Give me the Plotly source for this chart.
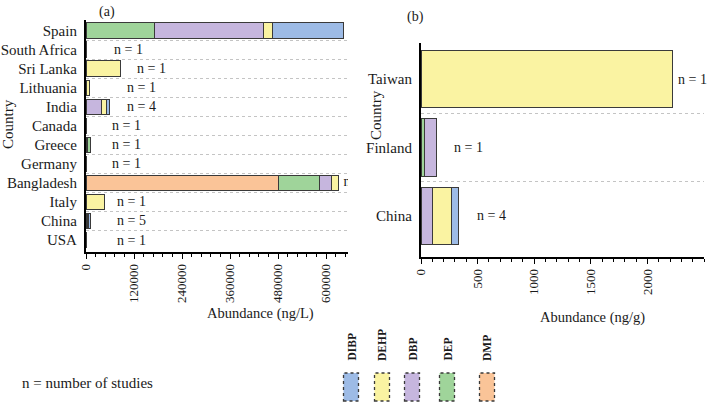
import plotly.graph_objects as go

# ---------------- data ----------------
series = ["DMP", "DEP", "DBP", "DEHP", "DIBP"]
legend_order = ["DIBP", "DEHP", "DBP", "DEP", "DMP"]

# Panel (a): water, ng/L  (listed bottom -> top)
countries_a = ["USA", "China", "Italy", "Bangladesh", "Germany", "Greece",
               "Canada", "India", "Lithuania", "Sri Lanka", "South Africa", "Spain"]
n_a = [1, 5, 1, 2, 1, 1, 1, 4, 1, 1, 1, 3]
dmp_a = [0, 0, 0, 480000, 0, 2500, 0, 0, 0, 0, 0, 0]
dep_a = [0, 1000, 0, 102500, 1500, 9000, 0, 0, 0, 0, 0, 170000]
dbp_a = [0, 3000, 0, 30000, 0, 0, 0, 37500, 0, 0, 0, 272500]
dehp_a = [600, 3000, 45000, 17500, 0, 0, 500, 12500, 8000, 85000, 800, 22500]
dibp_a = [0, 5000, 0, 0, 0, 0, 0, 7500, 1500, 0, 0, 177500]
label_x_a = [72500, 72500, 72500, 644000, 60000, 60000, 60000, 97500, 97500,
             122500, 65000, 672500]
ticks_a = [0, 120000, 240000, 360000, 480000, 600000]

# Panel (b): ng/g  (bottom -> top)
countries_b = ["China", "Finland", "Taiwan"]
n_b = [4, 1, 1]
dmp_b = [0, 0, 0]
dep_b = [0, 35, 0]
dbp_b = [105, 100, 0]
dehp_b = [168, 0, 2225]
dibp_b = [62, 0, 0]
label_x_b = [477, 274, 2255]
ticks_b = [0, 500, 1000, 1500, 2000]

vals_a = {"DMP": dmp_a, "DEP": dep_a, "DBP": dbp_a, "DEHP": dehp_a, "DIBP": dibp_a}
vals_b = {"DMP": dmp_b, "DEP": dep_b, "DBP": dbp_b, "DEHP": dehp_b, "DIBP": dibp_b}

colors = {"DIBP": "#9dbbe6", "DEHP": "#faf3a2", "DBP": "#c6b6de",
          "DEP": "#9fd49a", "DMP": "#fac498"}

# ---------------- figure ----------------
W, H = 709, 406
FONT = "Liberation Serif"
INK = "#1a1a1a"
OUT = "#3a3a3a"

ya = list(range(len(countries_a)))
yb = list(range(len(countries_b)))

fig = go.Figure()
for s in series:
    fig.add_trace(go.Bar(x=vals_a[s], y=ya, orientation="h", width=0.8,
                         marker=dict(color=colors[s], line=dict(color=OUT, width=1)),
                         xaxis="x", yaxis="y", showlegend=False, name=s))
    fig.add_trace(go.Bar(x=vals_b[s], y=yb, orientation="h", width=0.84,
                         marker=dict(color=colors[s], line=dict(color=OUT, width=1)),
                         xaxis="x2", yaxis="y2", showlegend=False, name=s))

# n labels; Bangladesh label gets clipped by the plot area as in the original
clip_idx = [i for i, c in enumerate(countries_a) if c == "Bangladesh"]
fig.add_trace(go.Scatter(x=[label_x_a[i] for i in clip_idx], y=[ya[i] for i in clip_idx],
                         text=[f"n = {n_a[i]}" for i in clip_idx], mode="text",
                         textposition="middle right", cliponaxis=True,
                         textfont=dict(family=FONT, size=14, color=INK),
                         xaxis="x", yaxis="y", showlegend=False))

annotations = []
for i, c in enumerate(countries_a):
    if i in clip_idx:
        continue
    annotations.append(dict(x=label_x_a[i], y=ya[i], xref="x", yref="y",
                            text=f"n = {n_a[i]}", showarrow=False, xanchor="left",
                            font=dict(family=FONT, size=14, color=INK)))
for i, c in enumerate(countries_b):
    annotations.append(dict(x=label_x_b[i], y=yb[i], xref="x2", yref="y2",
                            text=f"n = {n_b[i]}", showarrow=False, xanchor="left",
                            font=dict(family=FONT, size=14, color=INK)))


def px(x):
    return x / W


def py(y):
    return 1 - y / H


def txt(x, y, text, size=13, angle=0, xa="center", ya_="middle"):
    annotations.append(dict(x=px(x), y=py(y), xref="paper", yref="paper", text=text,
                            showarrow=False, textangle=angle, xanchor=xa, yanchor=ya_,
                            font=dict(family=FONT, size=size, color=INK)))


txt(107, 12, "(a)", 14)
txt(415, 17, "(b)", 14)
txt(8, 124, "Country", 15, -90)
txt(376, 115, "Country", 15, -90)
txt(260, 313, "Abundance (ng/L)", 14.5)
txt(592, 317, "Abundance (ng/g)", 14.5)
txt(20, 383, "n = number of studies", 15, 0, "left")

shapes = []
legend_cx = [351, 382, 412, 447, 487]
for name, cx in zip(legend_order, legend_cx):
    txt(cx, 363, f"<b>{name}</b>", 11.5, -90, "center", "bottom")
    shapes.append(dict(type="rect", xref="paper", yref="paper",
                       x0=px(cx - 7.5), x1=px(cx + 7.5), y0=py(401), y1=py(373),
                       fillcolor=colors[name], line=dict(color=OUT, width=1.3, dash="dot")))

tickfont = dict(family=FONT, size=13, color=INK)
catfont = dict(family=FONT, size=15, color=INK)

xcommon = dict(showline=True, linecolor="black", linewidth=1.5, ticks="outside",
               ticklen=5, tickwidth=1.3, tickcolor="black", tickangle=-90,
               showgrid=False, zeroline=False, tickfont=tickfont, automargin=False)
ycommon = dict(showline=True, linecolor="black", linewidth=2.2, ticks="",
               showgrid=False, zeroline=False, tickfont=catfont, ticklabelstandoff=4,
               automargin=False)

fig.update_layout(
    width=W, height=H, autosize=False,
    margin=dict(l=0, r=0, t=0, b=0, pad=0),
    paper_bgcolor="white", plot_bgcolor="white",
    barmode="stack", bargap=0.2,
    xaxis=dict(domain=[px(86), px(348)], anchor="y", range=[0, 655000],
               tickvals=ticks_a, ticktext=[str(t) for t in ticks_a],
               minor=dict(dtick=24000, ticks="outside", ticklen=3, tickcolor="black",
                          showgrid=False), **xcommon),
    yaxis=dict(domain=[py(252), py(20)], anchor="x", range=[-0.63, 11.55],
               tickvals=ya, ticktext=countries_a,
               minor=dict(tickvals=[i + 0.5 for i in ya[:-1]], showgrid=True,
                          gridcolor="#c4c4c4", griddash="dot", gridwidth=1, ticks=""),
               **ycommon),
    xaxis2=dict(domain=[px(421), px(704)], anchor="y2", range=[0, 2500],
                tickvals=ticks_b, ticktext=[str(t) for t in ticks_b],
                minor=dict(dtick=100, ticks="outside", ticklen=3, tickcolor="black",
                           showgrid=False), **xcommon),
    yaxis2=dict(domain=[py(257), py(43)], anchor="x2", range=[-0.6, 2.53],
                tickvals=yb, ticktext=countries_b,
                minor=dict(tickvals=[i + 0.5 for i in yb[:-1]], showgrid=True,
                           gridcolor="#c4c4c4", griddash="dot", gridwidth=1, ticks=""),
                **ycommon),
    annotations=annotations,
    shapes=shapes,
)

fig.write_html("out.html")
